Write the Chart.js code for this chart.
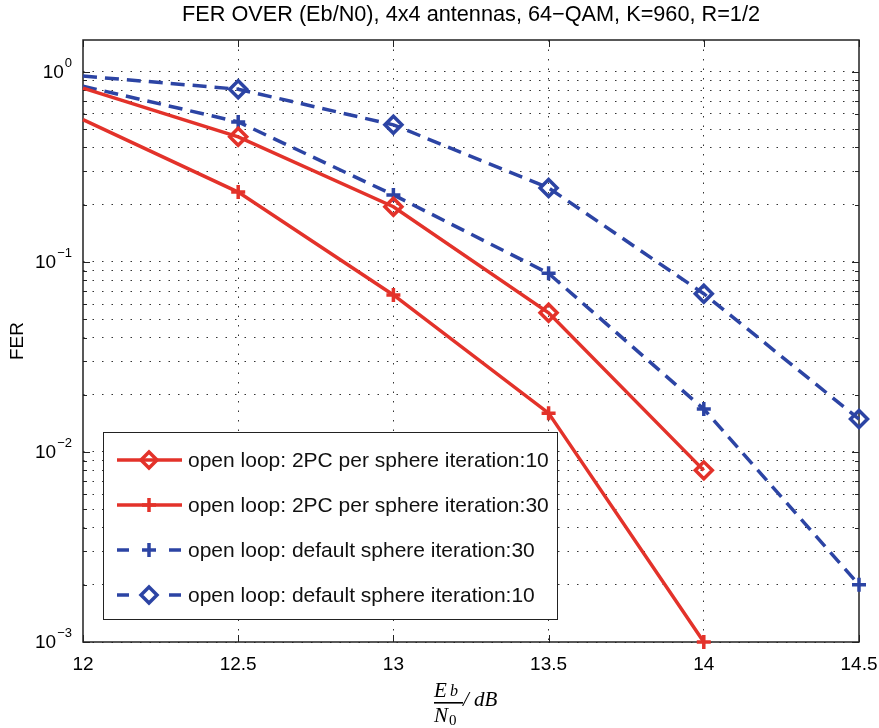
<!DOCTYPE html>
<html>
<head>
<meta charset="utf-8">
<script src="https://cdn.jsdelivr.net/npm/chart.js@4.4.1/dist/chart.umd.min.js"></script>
<style>
  html, body { margin: 0; padding: 0; background: #fff; }
</style>
</head>
<body>
<canvas id="ferChart" width="879" height="728"></canvas>
<script>
// values
var snrDb = [12, 12.5, 13, 13.5, 14, 14.5];
var fer2pc10 = [0.82, 0.455, 0.195, 0.054, 0.008];
var fer2pc30 = [0.56, 0.233, 0.067, 0.016, 0.001];
var ferDef30 = [0.84, 0.545, 0.225, 0.087, 0.0168, 0.002];
var ferDef10 = [0.95, 0.81, 0.526, 0.245, 0.068, 0.0149];

var seriesNames = [
  "open loop: 2PC per sphere iteration:10",
  "open loop: 2PC per sphere iteration:30",
  "open loop: default sphere iteration:30",
  "open loop: default sphere iteration:10"
];

var xTicks = [12, 12.5, 13, 13.5, 14, 14.5];
var yMajorTicks = [0.001, 0.01, 0.1, 1];
var yTickLabels = [["10", "\u22123"], ["10", "\u22122"], ["10", "\u22121"], ["10", "0"]];

var titleText = "FER OVER (Eb/N0), 4x4 antennas, 64\u2212QAM, K=960, R=1/2";
var yTitle = "FER";

var RED = "#e3322a";
var BLUE = "#2c44a4";
var SANS = "'Liberation Sans', Arial, sans-serif";
var SERIF = "'Liberation Serif', 'Times New Roman', serif";

function points(arr) {
  return arr.map(function (v, i) { return { x: snrDb[i], y: v }; });
}
function radii(arr, r) {
  // no marker drawn on the left border point
  return arr.map(function (v, i) { return i === 0 ? 0 : r; });
}

var yAllTicks = [];
yMajorTicks.forEach(function (m) {
  for (var k = 1; k <= 9; k++) {
    var v = m * k;
    if (v <= 1.47) yAllTicks.push(v);
  }
});

function diamond(ctx, x, y, r) {
  ctx.beginPath();
  ctx.moveTo(x, y - r);
  ctx.lineTo(x + r, y);
  ctx.lineTo(x, y + r);
  ctx.lineTo(x - r, y);
  ctx.closePath();
  ctx.stroke();
}
function plus(ctx, x, y, r) {
  ctx.beginPath();
  ctx.moveTo(x - r, y); ctx.lineTo(x + r, y);
  ctx.moveTo(x, y - r); ctx.lineTo(x, y + r);
  ctx.stroke();
}

var legendItems = [
  { color: RED, dashed: false, marker: "diamond" },
  { color: RED, dashed: false, marker: "plus" },
  { color: BLUE, dashed: true, marker: "plus" },
  { color: BLUE, dashed: true, marker: "diamond" }
];

var matlabLook = {
  id: "matlabLook",
  beforeDatasetsDraw: function (chart) {
    var ctx = chart.ctx, a = chart.chartArea;
    var xs = chart.scales.x, ys = chart.scales.y;
    ctx.save();
    ctx.strokeStyle = "#222";
    ctx.lineWidth = 1;
    ctx.setLineDash([]);
    ctx.beginPath();
    xTicks.forEach(function (v) {
      var px = Math.round(xs.getPixelForValue(v)) + 0.5;
      ctx.moveTo(px, a.bottom); ctx.lineTo(px, a.bottom - 7);
      ctx.moveTo(px, a.top); ctx.lineTo(px, a.top + 7);
    });
    yAllTicks.forEach(function (v) {
      var py = Math.round(ys.getPixelForValue(v)) + 0.5;
      var len = yMajorTicks.indexOf(v) >= 0 ? 7 : 4;
      ctx.moveTo(a.left, py); ctx.lineTo(a.left + len, py);
      ctx.moveTo(a.right, py); ctx.lineTo(a.right - len, py);
    });
    ctx.stroke();
    ctx.lineWidth = 1.5;
    ctx.strokeRect(a.left, a.top, a.right - a.left, a.bottom - a.top);
    ctx.restore();
  },
  afterDraw: function (chart) {
    var ctx = chart.ctx, a = chart.chartArea;
    var ys = chart.scales.y;
    ctx.save();
    ctx.fillStyle = "#000";

    // title
    ctx.font = "21.7px " + SANS;
    ctx.textAlign = "center";
    ctx.textBaseline = "middle";
    ctx.fillText(titleText, (a.left + a.right) / 2, 15);

    // y title
    ctx.save();
    ctx.translate(18, (a.top + a.bottom) / 2);
    ctx.rotate(-Math.PI / 2);
    ctx.font = "19px " + SANS;
    ctx.fillText(yTitle, 0, 0);
    ctx.restore();

    // y tick labels with superscript
    yMajorTicks.forEach(function (v, i) {
      var py = ys.getPixelForValue(v);
      var exp = yTickLabels[i][1];
      ctx.font = "13px " + SANS;
      var ew = ctx.measureText(exp).width;
      ctx.textAlign = "left";
      ctx.textBaseline = "alphabetic";
      ctx.fillText(exp, 72 - ew, py - 5);
      ctx.font = "19px " + SANS;
      ctx.textAlign = "right";
      ctx.textBaseline = "middle";
      ctx.fillText(yTickLabels[i][0], 72 - ew - 1, py + 1);
    });

    // x title: Eb / N0 fraction, then "/ dB"
    ctx.textAlign = "left";
    ctx.textBaseline = "alphabetic";
    ctx.font = "italic 21px " + SERIF;
    ctx.fillText("E", 434, 697);
    ctx.font = "italic 16px " + SERIF;
    ctx.fillText("b", 450, 696);
    ctx.fillRect(434, 702, 29, 1.6);
    ctx.font = "italic 21px " + SERIF;
    ctx.fillText("N", 434, 722);
    ctx.font = "15px " + SERIF;
    ctx.fillText("0", 449, 725);
    ctx.font = "italic 21px " + SERIF;
    ctx.fillText("/ dB", 463, 706);

    // legend
    var bx = 103, by = 432, bw = 454, bh = 187;
    ctx.fillStyle = "#fff";
    ctx.fillRect(bx, by, bw, bh);
    ctx.strokeStyle = "#222";
    ctx.lineWidth = 1;
    ctx.strokeRect(bx + 0.5, by + 0.5, bw, bh);
    var rows = [460, 505, 550, 595];
    legendItems.forEach(function (it, i) {
      var ry = rows[i];
      ctx.strokeStyle = it.color;
      ctx.lineWidth = 3.5;
      ctx.beginPath();
      if (it.dashed) {
        ctx.moveTo(117, ry); ctx.lineTo(129, ry);
        ctx.moveTo(169, ry); ctx.lineTo(181, ry);
      } else {
        ctx.moveTo(117, ry); ctx.lineTo(182, ry);
      }
      ctx.stroke();
      ctx.lineWidth = 3.5;
      if (it.marker === "diamond") diamond(ctx, 149, ry, 8);
      else plus(ctx, 149, ry, 7);
      ctx.fillStyle = "#111";
      ctx.font = "21px " + SANS;
      ctx.textAlign = "left";
      ctx.textBaseline = "middle";
      ctx.fillText(seriesNames[i], 188, ry + 1);
    });
    ctx.restore();
  }
};

var gridDash = [1.5, 8];

new Chart(document.getElementById("ferChart"), {
  type: "line",
  data: {
    datasets: [
      { label: seriesNames[0], data: points(fer2pc10), borderColor: RED, borderWidth: 3.5, clip: false,
        pointStyle: "rectRot", pointRadius: radii(fer2pc10, 8.5), pointBorderWidth: 3.5,
        pointBorderColor: RED, pointBackgroundColor: "rgba(0,0,0,0)" },
      { label: seriesNames[1], data: points(fer2pc30), borderColor: RED, borderWidth: 3.5, clip: false,
        pointStyle: "cross", pointRadius: radii(fer2pc30, 7), pointBorderWidth: 3.5,
        pointBorderColor: RED },
      { label: seriesNames[2], data: points(ferDef30), borderColor: BLUE, borderWidth: 3.5, clip: false,
        borderDash: [14, 8], pointStyle: "cross", pointRadius: radii(ferDef30, 7),
        pointBorderWidth: 3.5, pointBorderColor: BLUE },
      { label: seriesNames[3], data: points(ferDef10), borderColor: BLUE, borderWidth: 3.5, clip: false,
        borderDash: [14, 8], pointStyle: "rectRot", pointRadius: radii(ferDef10, 8.5),
        pointBorderWidth: 3.5, pointBorderColor: BLUE, pointBackgroundColor: "rgba(0,0,0,0)" }
    ]
  },
  options: {
    responsive: false,
    animation: false,
    events: [],
    devicePixelRatio: 1,
    layout: { padding: { top: 40, right: 20, left: 0, bottom: 0 } },
    plugins: { legend: { display: false }, title: { display: false }, tooltip: { enabled: false } },
    scales: {
      x: {
        type: "linear", min: 12, max: 14.5,
        afterBuildTicks: function (s) { s.ticks = xTicks.map(function (v) { return { value: v }; }); },
        afterFit: function (s) { s.height = 86; s.paddingLeft = 0; s.paddingRight = 0; },
        ticks: { color: "#000", font: { family: SANS, size: 19 }, padding: 11, maxRotation: 0,
                 callback: function (v) { return String(v); } },
        grid: { drawTicks: false, lineWidth: 1,
                color: function (c) { return (c.tick && (c.tick.value === 12 || c.tick.value === 14.5)) ? "rgba(0,0,0,0)" : "#333"; } },
        border: { display: false, dash: gridDash }
      },
      y: {
        type: "logarithmic", min: 0.001, max: 1.47,
        afterBuildTicks: function (s) { s.ticks = yAllTicks.map(function (v) { return { value: v }; }); },
        afterFit: function (s) { s.width = 83; s.paddingTop = 0; s.paddingBottom = 0; },
        ticks: { display: false },
        grid: { drawTicks: false, lineWidth: 1, color: "#333" },
        border: { display: false, dash: gridDash }
      }
    }
  },
  plugins: [matlabLook]
});
</script>
</body>
</html>
